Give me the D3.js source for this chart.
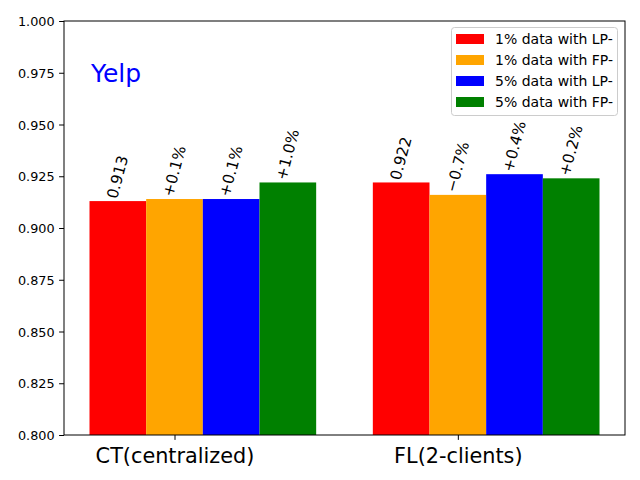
<!DOCTYPE html>
<html>
<head>
<meta charset="utf-8">
<script src="https://cdn.jsdelivr.net/npm/d3@7"></script>
<style>
  html, body { margin: 0; padding: 0; background: #fff; }
  svg { display: block; }
  text { font-family: "DejaVu Sans", sans-serif; }
</style>
</head>
<body>
<svg id="chart" width="640" height="480"></svg>
<script>
// ---- data ----
const groups = ["CT(centralized)", "FL(2-clients)"];
const seriesNames = ["1% data with LP-", "1% data with FP-", "5% data with LP-", "5% data with FP-"];
const seriesColors = ["red", "orange", "blue", "green"];
const ctValues = [0.913, 0.914, 0.914, 0.922];
const flValues = [0.922, 0.916, 0.926, 0.924];
const ctLabels = ["0.913", "+0.1%", "+0.1%", "+1.0%"];
const flLabels = ["0.922", "\u22120.7%", "+0.4%", "+0.2%"];
const yTicks = [0.800, 0.825, 0.850, 0.875, 0.900, 0.925, 0.950, 0.975, 1.000];
const title = "Yelp";

const values = [ctValues, flValues];
const labels = [ctLabels, flLabels];

// ---- layout ----
const svg = d3.select("#chart");
const L = 64, R = 625, T = 21, B = 435;
const barW = 0.2;

const x = d3.scaleLinear().domain([-0.39, 1.59]).range([L, R]);
const y = d3.scaleLinear().domain([0.8, 1.0]).range([B, T]);

// bars
groups.forEach((gName, gi) => {
  values[gi].forEach((v, si) => {
    const cx = gi + (si - 1) * barW;
    svg.append("rect")
      .attr("x", x(cx - barW / 2))
      .attr("y", y(v))
      .attr("width", x(cx + barW / 2) - x(cx - barW / 2))
      .attr("height", y(0.8) - y(v))
      .attr("fill", seriesColors[si]);
  });
});

// bar labels (rotated 75deg, bottom-centered on bar top)
const ang = -75 * Math.PI / 180;
groups.forEach((gName, gi) => {
  values[gi].forEach((v, si) => {
    const cx = x(gi + (si - 1) * barW);
    const top = y(v);
    const t = svg.append("text")
      .attr("font-size", 15.3)
      .attr("fill", "#000")
      .text(labels[gi][si]);
    const bb = t.node().getBBox();
    const pts = [[bb.x, bb.y], [bb.x + bb.width, bb.y], [bb.x, bb.y + bb.height], [bb.x + bb.width, bb.y + bb.height]]
      .map(([px, py]) => [px * Math.cos(ang) - py * Math.sin(ang), px * Math.sin(ang) + py * Math.cos(ang)]);
    const minX = d3.min(pts, p => p[0]), maxX = d3.max(pts, p => p[0]);
    const maxY = d3.max(pts, p => p[1]);
    const tx = cx - (minX + maxX) / 2;
    const ty = top - 0.5 - maxY;
    t.attr("transform", `translate(${tx},${ty}) rotate(-75)`);
  });
});

// y axis
const yAxis = d3.axisLeft(y).tickValues(yTicks).tickFormat(d3.format(".3f")).tickSize(4.9).tickPadding(4.5);
const gy = svg.append("g").attr("transform", `translate(${L},0)`).call(yAxis);
gy.select(".domain").remove();
gy.selectAll("line").attr("stroke", "#000").attr("stroke-width", 1);
gy.selectAll("text").attr("font-size", 12.8).attr("fill", "#000").attr("font-family", "DejaVu Sans").attr("dy", "0.36em");

// x axis
const xAxis = d3.axisBottom(x).tickValues([0, 1]).tickFormat((d, i) => groups[i]).tickSize(4.9).tickPadding(7);
const gx = svg.append("g").attr("transform", `translate(0,${B})`).call(xAxis);
gx.select(".domain").remove();
gx.selectAll("line").attr("stroke", "#000").attr("stroke-width", 1);
gx.selectAll("text").attr("font-size", 20.8).attr("fill", "#000").attr("font-family", "DejaVu Sans").attr("dy", "0.76em");

// frame
svg.append("rect")
  .attr("x", L).attr("y", T).attr("width", R - L).attr("height", B - T)
  .attr("fill", "none").attr("stroke", "#000").attr("stroke-width", 1);

// title text
svg.append("text")
  .attr("x", 91).attr("y", 82)
  .attr("font-size", 25)
  .attr("fill", "blue")
  .text(title);

// legend
const lg = svg.append("g");
lg.append("rect")
  .attr("x", 451.5).attr("y", 27.5).attr("width", 166).attr("height", 88)
  .attr("rx", 3).attr("ry", 3)
  .attr("fill", "#fff").attr("fill-opacity", 0.8)
  .attr("stroke", "#cccccc").attr("stroke-width", 1);
seriesNames.forEach((name, i) => {
  const cy = 39 + i * 21;
  lg.append("rect")
    .attr("x", 456).attr("y", cy - 5).attr("width", 28).attr("height", 10)
    .attr("fill", seriesColors[i]);
  lg.append("text")
    .attr("x", 495).attr("y", cy).attr("dy", "0.36em")
    .attr("font-size", 14)
    .attr("fill", "#000")
    .text(name);
});
</script>
</body>
</html>
